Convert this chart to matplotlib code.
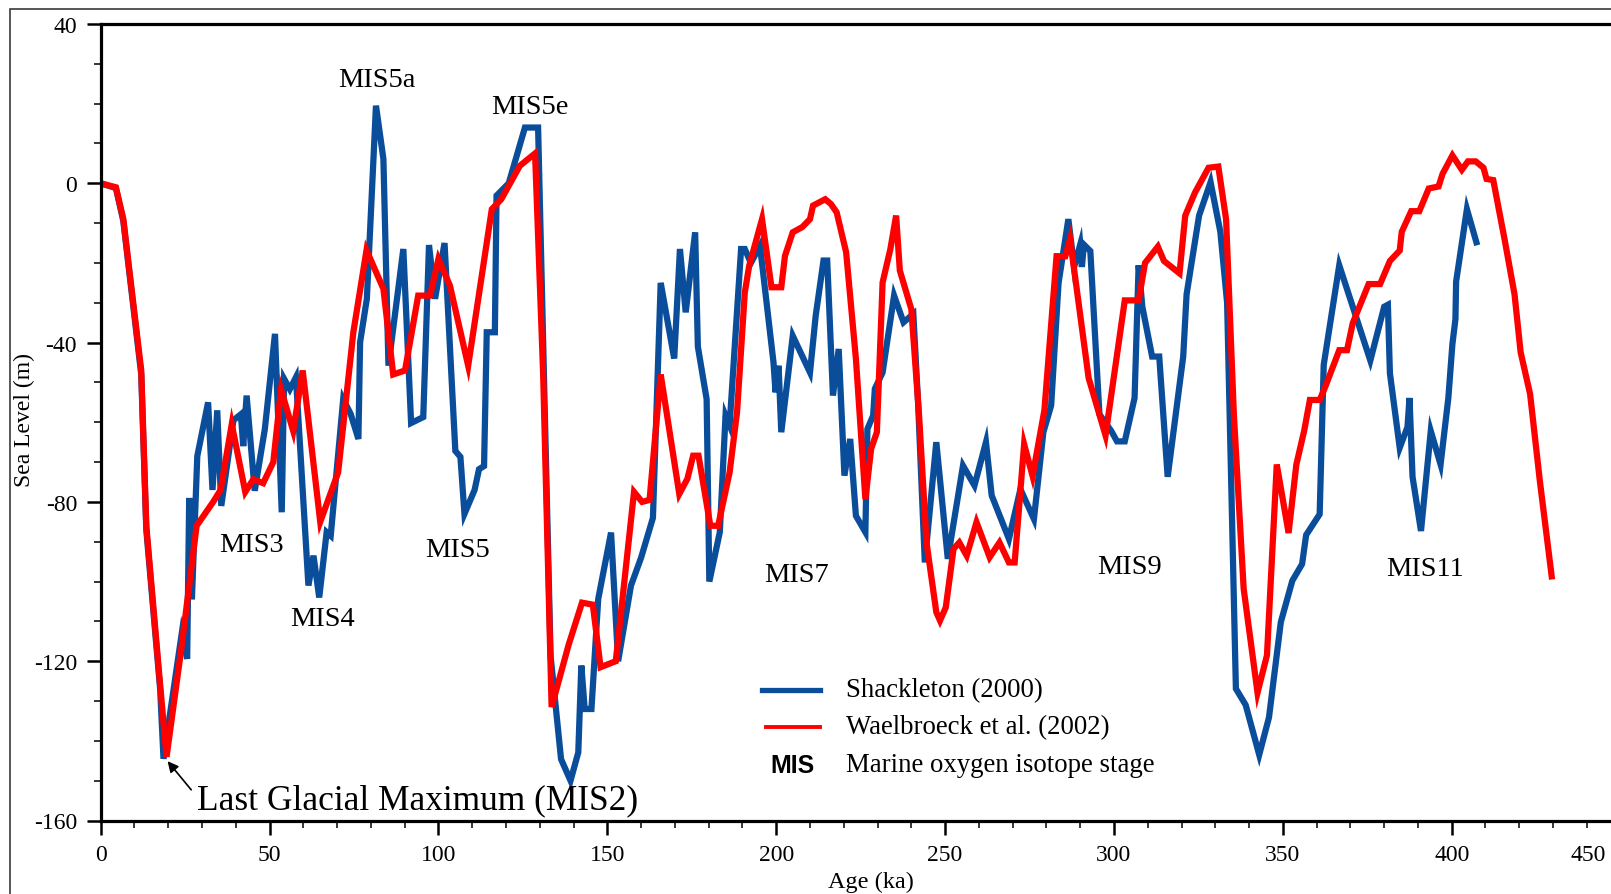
import matplotlib
matplotlib.use("Agg")
import matplotlib.pyplot as plt
from matplotlib.ticker import MultipleLocator
from matplotlib.lines import Line2D
from matplotlib.patches import Rectangle

plt.rcParams["font.family"] = ["Liberation Serif", "DejaVu Serif"]
plt.rcParams["axes.unicode_minus"] = False

# Shackleton (2000) sea level curve, age (ka) / level (m)
shack_age = [0, 4.5, 6.7, 12, 13.5, 17.6, 18.6, 24, 25.6, 26.2, 27, 28.6, 31.8, 33.1,
             34.5, 35.7, 39.3, 41.5, 42.2, 43.2, 45.6, 48.6, 51.6, 53.6, 54.3, 56, 57.8,
             61.5, 63, 64.7, 66.9, 68.1, 71.8, 74, 76.3, 76.8, 78.8, 81.5, 83.7, 85.2,
             89.6, 91.9, 95.5, 97.2, 99, 101.8, 105, 106.5, 107.7, 110.7, 112, 113.5,
             114.3, 116.7, 117.2, 120.8, 125.6, 128.6, 129.5, 133.2, 136.3, 139.1, 141.4,
             142.3, 143.3, 145.3, 147.3, 151.1, 153.2, 157, 160, 163.5, 165.8, 169.8,
             171.5, 173.2, 176, 176.8, 179.4, 180.2, 183.3, 185, 186.2, 189.6, 190.7,
             192.5, 195.2, 199.2, 199.8, 200.7, 201.5, 204.9, 210, 211.7, 214, 215.1,
             216.8, 218.5, 220.2, 221.9, 223.6, 226.4, 227, 228.7, 229.2, 231.5, 234.9,
             237.7, 240.6, 242, 244, 247.4, 250.8, 255.3, 258.7, 262.1, 263.8, 268.9,
             272.3, 276.3, 279.1, 281.4, 283.6, 286.5, 288.2, 290, 290.5, 291.1, 293,
             295.7, 299.2, 300.9, 303.2, 306.1, 307.3, 308.4, 311.3, 313.4, 315.9, 320.5,
             321.5, 325.2, 328.6, 331.5, 333.5, 336.1, 339, 343, 345.9, 349.4, 352.8,
             355.7, 356.9, 360.9, 362.1, 366.7, 375.9, 380, 381.1, 381.7, 384.6, 386.9,
             387.5, 388.4, 390.9, 393.8, 396.7, 399, 400.2, 401.1, 401.3, 404.5, 407.3]
shack_sl = [0, -1.2, -9.5, -48, -87, -127, -144.5, -113, -119.4, -79, -104.5, -68.5, -55, -77,
            -57, -81, -59.5, -58, -66, -53.3, -77.2, -61.7, -37.8, -82.6, -49.1, -51.7, -48.7,
            -101, -93.5, -104, -87.6, -88.5, -54.2, -57.9, -64.2, -39.9, -29, 19.5, 6.1, -45.8,
            -16.5, -60.2, -58.7, -15.5, -29, -15, -67.2, -68.7, -83, -77, -71.8, -71,
            -37.4, -37.4, -3.1, 0, 14, 14, 14, -118.7, -144.6, -150, -142.9,
            -121.1, -132, -132, -104.4, -87.7, -120, -101, -94, -84, -25, -44,
            -16.5, -32.4, -12.3, -41, -54.2, -100, -87.6, -58.3, -60.8, -16.5, -16.5,
            -20, -15.7, -45, -52.5, -45.8, -62.5, -38.3, -47.5, -33.2, -19.4, -19.4,
            -53.3, -41.6, -73.4, -64.2, -83.5, -87.6, -61.7, -58.3, -51.6, -47.5, -28.2,
            -34.9, -32.8, -55, -95.2, -65, -94.3, -70.9, -75.9, -65, -78.4, -89.3,
            -76.8, -84.3, -62.5, -55.8, -25, -9, -21, -15.4, -21, -15.4, -17,
            -58, -62.2, -64.8, -64.8, -53.9, -20.6, -31, -43.5, -43.5, -73.7, -43.5,
            -27.9, -8.1, 0.3, -12.2, -30, -126.9, -131, -143.5, -134.1, -110.2, -99.8,
            -95.6, -88.3, -83.1, -45.6, -20.6, -44.5, -31, -30.5, -47.7, -66.4, -61.2,
            -53.9, -73.7, -87.3, -62.2, -70.6, -53.9, -40.4, -34.1, -24.7, -6.5, -14.8]

# Waelbroeck et al. (2002) sea level curve
wael_age = [0, 4.5, 6.7, 12, 13.5, 17.6, 19.5, 24, 28.4, 33.3, 35.5, 38.8, 42.8, 45.2,
            48.1, 51.1, 53.4, 57, 59.8, 65, 70.3, 74.8, 78.7, 83.7, 86.6, 90.1, 94, 97.5,
            100, 103.4, 108.8, 115.8, 118.6, 124.1, 128.6, 131, 133.5, 138.5, 142.5,
            145.7, 148, 152.5, 157.9, 160.3, 162.5, 165.8, 171.3, 173.7, 175.4, 177,
            180.5, 182.8, 186.2, 188.4, 190.7, 192, 195.8, 198.6, 201.5, 202.6, 204.9,
            207.7, 210, 210.9, 214.5, 216.2, 217.9, 220.7, 223.6, 226.4, 228.1, 229.8,
            231.5, 233.8, 235.5, 236.6, 240, 242.3, 244.5, 247.4, 248.5, 250.2, 252.5,
            254.2, 256.4, 259.3, 263.2, 266.1, 268.9, 270.6, 273.4, 275.9, 279.4, 283,
            285.6, 287, 292.5, 297.5, 303.2, 307.3, 309.2, 313, 314.8, 319.4, 321.1, 324,
            328, 330.9, 333.2, 335.5, 338.4, 342.5, 345.3, 348.2, 351.7, 354, 356.3, 358,
            360.9, 362.7, 366.7, 369, 370.7, 375.4, 378.8, 381.7, 384.6, 385.2, 388,
            390.4, 393.2, 396.1, 397.3, 400.2, 403, 404.8, 407.1, 409.4, 410.3, 412.3,
            415.7, 418.6, 420.4, 423.2, 426.1, 429.6]
wael_sl = [0, -1, -9, -47, -86, -126, -144, -116, -86, -80, -77, -60.5, -77.5, -74.3,
           -75.3, -70, -51.8, -62.2, -47, -85, -72.6, -37.4, -16.8, -26.5, -48, -47, -28.2, -28.2,
           -19, -25.7, -45.8, -6.5, -4, 4.4, 7.5, -48, -131.5, -116, -105.3,
           -105.8, -121.5, -120, -77.5, -80, -79.5, -48, -78, -74.2, -68.4, -68.4,
           -86, -86, -72.6, -57.5, -27.4, -20.7, -9, -26.1, -26.1, -18.2, -12.3,
           -11, -9, -5.6, -4, -5.2, -7.3, -17.3, -44.1, -79.3, -66.7, -62.5,
           -24.9, -16.5, -8.1, -21.9, -31.6, -58.3, -90.2, -107.7, -109.8, -106.5, -91.8,
           -90.2, -93.5, -85.1, -93.9, -90.2, -95.2, -95.2, -65.5, -73.5, -57, -18.3,
           -18.3, -14, -48.9, -63.3, -29.4, -29.4, -20, -15.9, -19.5, -22.6, -8.1, -2.3,
           3.9, 4.2, -9.1, -58.1, -101.8, -127.9, -118.5, -70.6, -87.8, -70.6, -62.2, -54.4,
           -54.4, -50.8, -41.9, -41.9, -35.1, -25.3, -25.3, -19.5, -16.9, -12.2, -7,
           -7, -1.3, -0.8, 2.4, 7, 3.4, 5.5, 5.5, 3.9, 1.1, 0.8,
           -14.3, -27.9, -42.4, -52.9, -74.8, -98.7]

# isotope stage labels: text, age, level
stage_names = ["MIS5a", "MIS5e", "MIS3", "MIS4", "MIS5", "MIS7", "MIS9", "MIS11"]
stage_age = [81.7, 127.1, 44.7, 65.7, 105.6, 205.9, 304.5, 392.1]
stage_sl = [26, 19.3, -90.7, -109.3, -92, -98.2, -96.1, -96.6]

x_ticks = [0, 50, 100, 150, 200, 250, 300, 350, 400, 450]

BLUE = "#0a4e9b"
RED = "#ff0000"
W, H = 1611, 895


def fx(px):
    return px / W


def fy(py):
    return 1 - py / H


fig = plt.figure(figsize=(W / 100, H / 100), dpi=100)
ax = fig.add_axes([fx(100.7), fy(821.5), (1620.6 - 100.7) / W, (821.5 - 25) / H])

ax.plot(shack_age, shack_sl, color=BLUE, lw=4.5, solid_joinstyle="miter")
ax.plot(wael_age, wael_sl, color=RED, lw=4.5, solid_joinstyle="miter")

ax.set_xlim(0, 450)
ax.set_ylim(-160, 40)
ax.set_xticks(x_ticks, labels=[str(t) for t in x_ticks[:-1]] + [""])
ax.xaxis.set_minor_locator(MultipleLocator(10))
ax.yaxis.set_major_locator(MultipleLocator(40))
ax.yaxis.set_minor_locator(MultipleLocator(10))
ax.tick_params(which="major", direction="out", length=10, width=1.8,
               labelsize=17, pad=7, top=False, right=False)
ax.tick_params(which="minor", direction="out", length=5, width=1.1,
               top=False, right=False)
for side in ["left", "bottom", "top"]:
    ax.spines[side].set_linewidth(2.3)
ax.spines["right"].set_visible(False)

# last tick label pulled back inside the frame
ax.annotate("450", xy=(450, 0), xycoords=ax.get_xaxis_transform(),
            xytext=(-15, -23.5), textcoords="offset pixels",
            ha="right", va="top", fontsize=17)

fig.text(fx(24), fy(420), "Sea Level (m)", rotation=90, ha="center", va="center",
         fontsize=17)
fig.text(fx(871), fy(888), "Age (ka)", ha="center", va="baseline", fontsize=17.5)

for name, a, s in zip(stage_names, stage_age, stage_sl):
    ax.text(a, s, name, ha="center", va="center", fontsize=20.5)

ax.annotate("", xy=(19.8, -145.1), xytext=(26.8, -152.3),
            arrowprops=dict(arrowstyle="-|>", color="black", lw=1.2,
                            mutation_scale=16, shrinkA=0, shrinkB=0))
ax.text(28.6, -154.7, "Last Glacial Maximum (MIS2)", ha="left", va="center",
        fontsize=25.5)

# hand-drawn legend block
fig.add_artist(Line2D([fx(762), fx(820)], [fy(691), fy(691)], color=BLUE, lw=3.8))
fig.add_artist(Line2D([fx(766), fx(820)], [fy(728), fy(728)], color=RED, lw=2.8))
fig.text(fx(846), fy(691), "Shackleton (2000)", va="center", fontsize=19.3)
fig.text(fx(846), fy(728), "Waelbroeck et al. (2002)", va="center", fontsize=19.3)
fig.text(fx(793), fy(766), "MIS", ha="center", va="center", fontsize=18,
         family="Liberation Sans", weight="bold")
fig.text(fx(846), fy(766), "Marine oxygen isotope stage", va="center", fontsize=19.3)

# outer border of the page
fig.add_artist(Rectangle((fx(10), -0.1), 1.2, fy(10) + 0.1, transform=fig.transFigure,
                         fill=False, ec="#3a3a3a", lw=1.2))

fig.savefig("out.png", dpi=100)
